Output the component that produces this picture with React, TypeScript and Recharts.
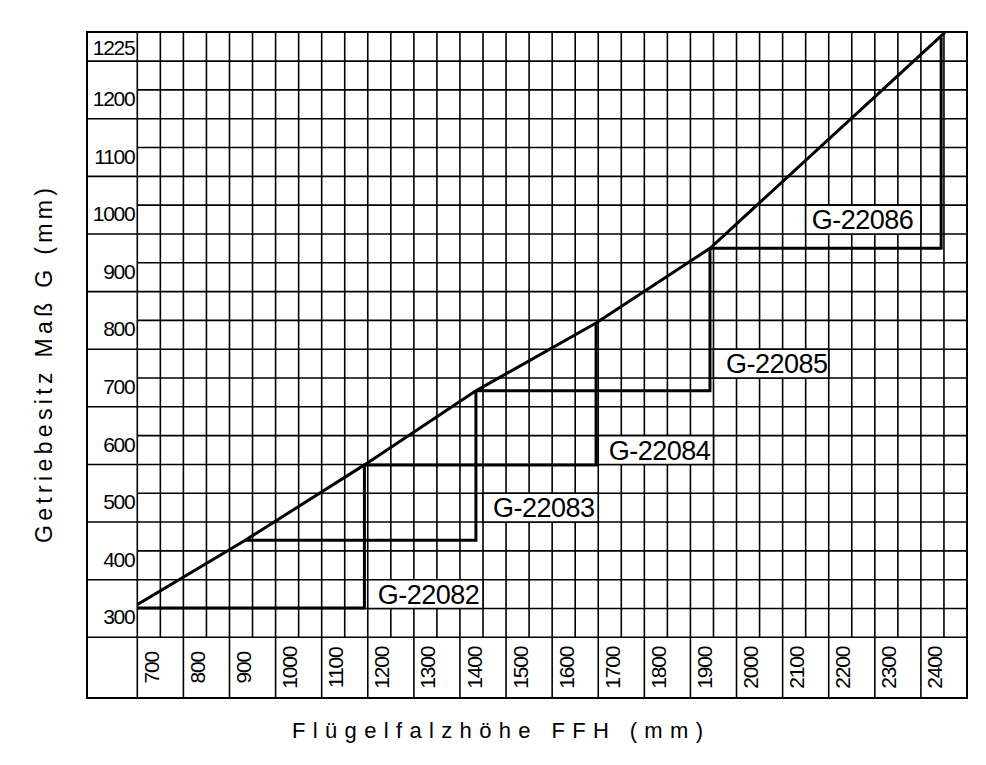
import React from 'react';
import { ComposedChart, Line, XAxis, YAxis, CartesianGrid, ReferenceArea } from 'recharts';

const FONT = '"Liberation Sans", Arial, sans-serif';
const INK = '#000';

// Kennlinie: Flügelfalzhöhe FFH (mm) -> Getriebesitz Maß G (mm)
const kennlinieFfh = [700, 938, 1187, 1420, 1671, 1909, 2400];
const kennlinieG = [300, 409, 530, 649, 758, 878, 1225];

// Getriebe: Grundlinie bei G von/bis FFH, dann senkrecht bis zur Kennlinie
const getriebe = ['G-22082', 'G-22083', 'G-22084', 'G-22085', 'G-22086'];
const getriebeFfhVon = [700, 938, 1187, 1420, 1909];
const getriebeFfhBis = [1187, 1420, 1671, 1909, 2392];
const getriebeGVon = [300, 409, 530, 649, 878];
const getriebeGBis = [530, 649, 758, 878, 1217];

const ffhLabels = ['700', '800', '900', '1000', '1100', '1200', '1300', '1400', '1500', '1600', '1700', '1800', '1900', '2000', '2100', '2200', '2300', '2400'];
const gLabels = ['300', '400', '500', '600', '700', '800', '900', '1000', '1100', '1200', '1225'];

// Raster (drawing grid), in label units, one cell = 50
const RASTER = 50;
const RASTER_X: [number, number] = [650, 2450];
const RASTER_Y: [number, number] = [250, 1300];
// data axes of the curve (the drawing is not to raster scale)
const FFH_DOMAIN: [number, number] = [712.5, 2446];
const G_DOMAIN: [number, number] = [253, 1225];

// label boxes in raster units
const labelFelder = [
  { x1: 1150, x2: 1400, y1: 300, y2: 350, dx: 10 },
  { x1: 1400, x2: 1650, y1: 450, y2: 500, dx: 10 },
  { x1: 1650, x2: 1900, y1: 550, y2: 600, dx: 10.5 },
  { x1: 1900, x2: 2150, y1: 700, y2: 750, dx: 12.5 },
  { x1: 2100, x2: 2350, y1: 950, y2: 1000, dx: 6 },
];

const steps = (a: number, b: number) => {
  const out: number[] = [];
  for (let v = a; v <= b; v += RASTER) out.push(v);
  return out;
};
const rasterXTicks = steps(RASTER_X[0], RASTER_X[1]);
const rasterYTicks = steps(RASTER_Y[0], RASTER_Y[1]);

const gCells = gLabels.map((text, i) => {
  const lo = RASTER_Y[0] + 2 * RASTER * i;
  const hi = Math.min(lo + 2 * RASTER, RASTER_Y[1]);
  return { text, lo, hi, mid: (lo + hi) / 2, half: hi - lo < 2 * RASTER };
});
const gTicks = Array.from(new Set([...gCells.flatMap((c) => [c.lo, c.hi]), ...gCells.map((c) => c.mid)])).sort((a, b) => a - b);

const kennlinie = kennlinieFfh.map((ffh, i) => ({ ffh, g: kennlinieG[i] }));
const getriebeLinien = getriebe.map((name, i) => ({
  name,
  data: [
    { ffh: getriebeFfhVon[i], g: getriebeGVon[i] },
    { ffh: getriebeFfhBis[i], g: getriebeGVon[i] },
    { ffh: getriebeFfhBis[i], g: getriebeGBis[i] },
  ],
}));

const LINE_W = 1.6;
const X_ROW = 61;
const Y_COL = 50;

function FfhTick(props: any) {
  const { x, y, payload } = props;
  const v = payload.value as number;
  if ((v - RASTER_X[0]) % (2 * RASTER) === 0) {
    return <line x1={x} x2={x} y1={y} y2={y + X_ROW} stroke={INK} strokeWidth={LINE_W} />;
  }
  const label = ffhLabels[(v - RASTER_X[0] - RASTER) / (2 * RASTER)];
  return (
    <text transform={`translate(${x - 1.5},${y + 30.5}) rotate(-90)`} textAnchor="middle" fontFamily={FONT} fontSize={21} letterSpacing={-1.2} fill={INK}>
      {label}
    </text>
  );
}

function GTick(props: any) {
  const { x, y, payload } = props;
  const cell = gCells.find((c) => c.mid === payload.value);
  if (!cell) {
    return <line x1={x - Y_COL} x2={x} y1={y} y2={y} stroke={INK} strokeWidth={LINE_W} />;
  }
  return (
    <text x={x - 3} y={y + (cell.half ? 8.3 : 16)} textAnchor="end" fontFamily={FONT} fontSize={21} letterSpacing={-1.3} fill={INK}>
      {cell.text}
    </text>
  );
}

export default function App() {
  return (
    <div style={{ position: 'absolute', left: 0, top: 0, width: 986, height: 765, background: '#fff' }}>
      <ComposedChart width={986} height={765} data={kennlinie} margin={{ top: 32.3, right: 19, bottom: 66.7, left: 87.3 }}>
        <XAxis
          xAxisId="raster"
          dataKey="ffh"
          type="number"
          domain={RASTER_X}
          allowDataOverflow
          ticks={rasterXTicks}
          interval={0}
          height={X_ROW}
          axisLine={false}
          tickLine={false}
          tickSize={0}
          tickMargin={0}
          tick={FfhTick}
        />
        <YAxis
          yAxisId="labels"
          type="number"
          domain={RASTER_Y}
          allowDataOverflow
          ticks={gTicks}
          interval={0}
          width={Y_COL}
          axisLine={false}
          tickLine={false}
          tickSize={0}
          tickMargin={0}
          tick={GTick}
        />
        <YAxis yAxisId="raster" type="number" domain={RASTER_Y} allowDataOverflow ticks={rasterYTicks} interval={0} width={0} hide />
        <XAxis xAxisId="ffh" dataKey="ffh" type="number" domain={FFH_DOMAIN} allowDataOverflow height={0} hide />
        <YAxis yAxisId="g" type="number" domain={G_DOMAIN} allowDataOverflow width={0} hide />

        <CartesianGrid xAxisId="raster" yAxisId="raster" stroke={INK} strokeWidth={LINE_W} />

        {labelFelder.map((f, i) => (
          <ReferenceArea
            key={getriebe[i]}
            xAxisId="raster"
            yAxisId="raster"
            x1={f.x1}
            x2={f.x2}
            y1={f.y1}
            y2={f.y2}
            fill="#fff"
            fillOpacity={1}
            stroke={INK}
            strokeWidth={LINE_W}
            label={(p: any) => {
              const vb = p.viewBox;
              return (
                <text x={vb.x + f.dx} y={vb.y + vb.height - 4.8} textLength={102} lengthAdjust="spacing" fontFamily={FONT} fontSize={27} fill={INK}>
                  {getriebe[i]}
                </text>
              );
            }}
          />
        ))}

        <Line xAxisId="ffh" yAxisId="g" data={kennlinie} dataKey="g" stroke={INK} strokeWidth={3} dot={false} isAnimationActive={false} />
        {getriebeLinien.map((s) => (
          <Line key={s.name} xAxisId="ffh" yAxisId="g" data={s.data} dataKey="g" name={s.name} stroke={INK} strokeWidth={3} strokeLinejoin="miter" dot={false} isAnimationActive={false} />
        ))}
      </ComposedChart>

      <div style={{ position: 'absolute', left: 86, top: 31.3, width: 882, height: 668, boxSizing: 'border-box', border: '2px solid #000', pointerEvents: 'none' }} />

      <svg width={986} height={765} style={{ position: 'absolute', left: 0, top: 0, pointerEvents: 'none' }}>
        <text x={497.5} y={738} textAnchor="middle" textLength={411} lengthAdjust="spacing" fontFamily={FONT} fontSize={22} fill={INK}>
          Flügelfalzhöhe FFH (mm)
        </text>
        <text transform="translate(52,365.5) rotate(-90)" textAnchor="middle" textLength={355} lengthAdjust="spacing" fontFamily={FONT} fontSize={23} fill={INK}>
          Getriebesitz Maß G (mm)
        </text>
      </svg>
    </div>
  );
}
